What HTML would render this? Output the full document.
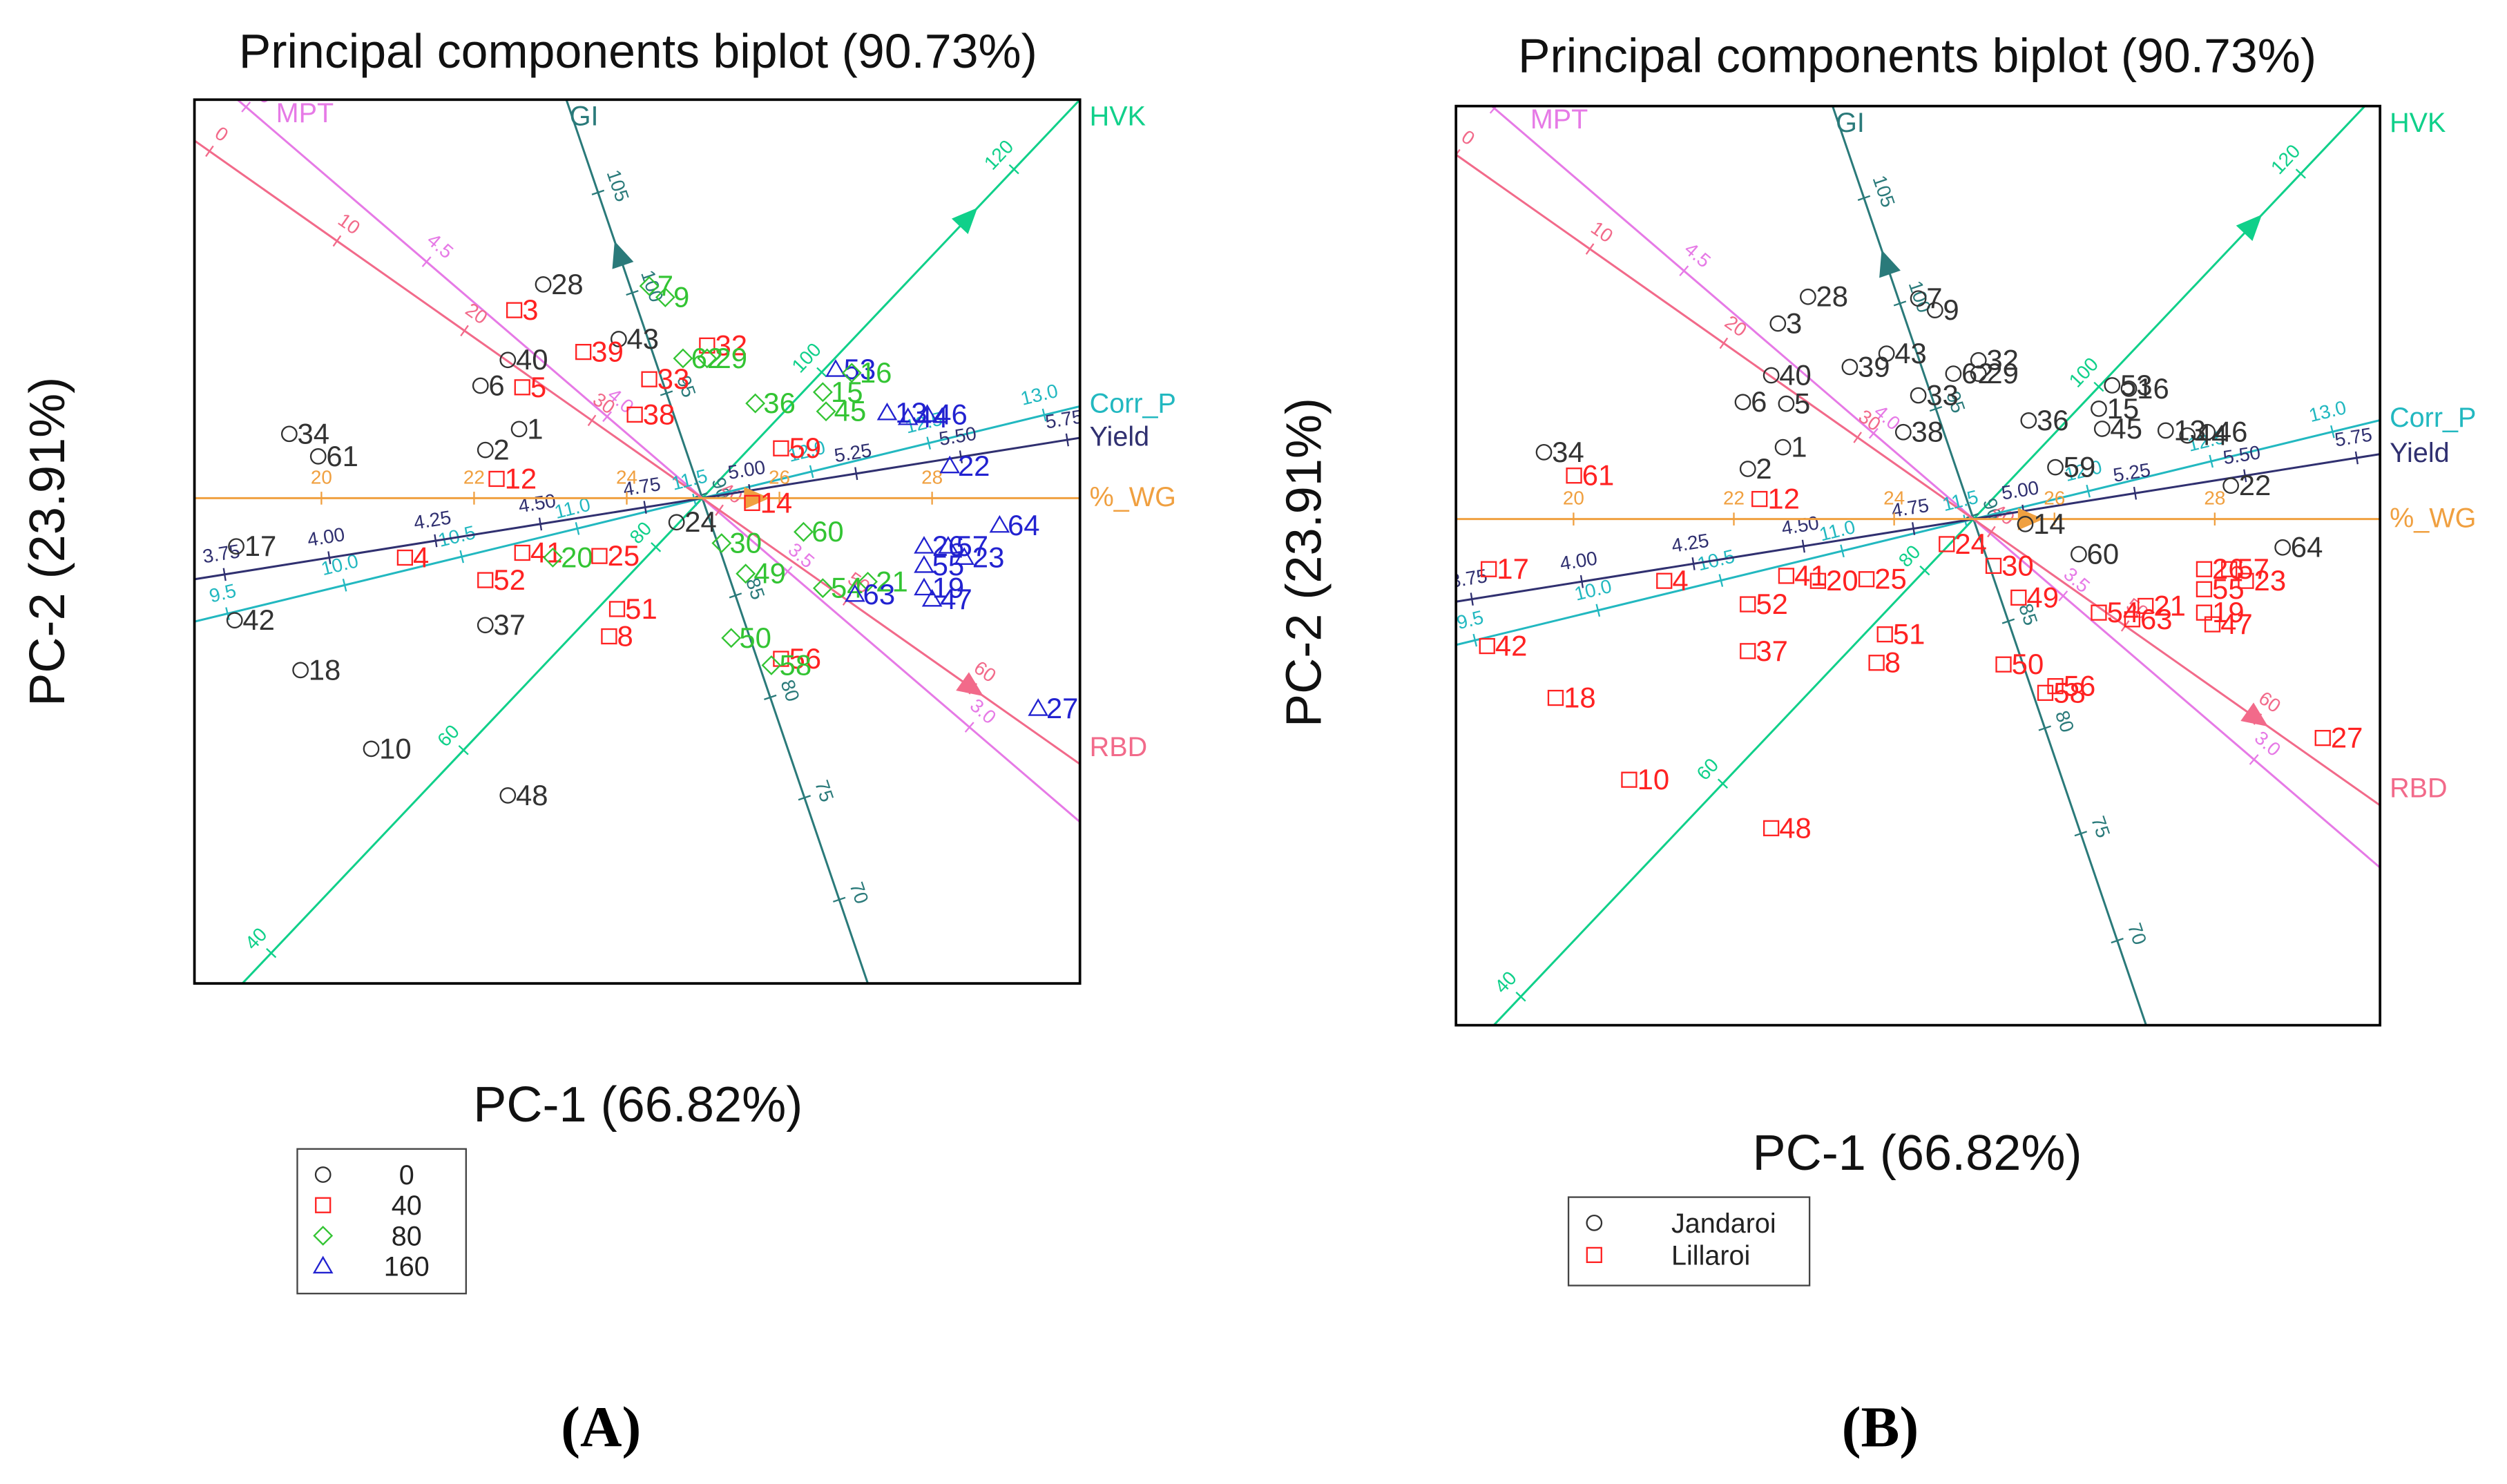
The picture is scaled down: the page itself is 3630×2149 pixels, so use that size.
<!DOCTYPE html>
<html><head><meta charset="utf-8">
<style>
html,body{margin:0;padding:0;background:#fff;width:3630px;height:2149px;overflow:hidden;}
svg{display:block;font-family:"Liberation Sans",Arial,sans-serif;}
</style></head>
<body>
<svg id="root" width="3630" height="2149" viewBox="0 0 1560 923.5" xmlns="http://www.w3.org/2000/svg">
<rect x="0" y="0" width="1560" height="923.5" fill="#fff"/>
<defs>
<clipPath id="clipA"><rect x="121" y="62" width="551" height="550"/></clipPath>
<clipPath id="clipB"><rect x="906" y="66" width="575" height="572"/></clipPath>
</defs>
<g id="panelA"></g>
<g id="panelB"></g>
</svg>
<script>
// ---- point data (PC1, PC2 scores) ----
const ptLabels = ["28","3","7","9","43","39","32","62","29","40","6","5","33","38","36","15","45","53","16","13","44","46","34","61","1","2","59","12","22","14","24","60","64","17","4","41","20","25","30","26","57","23","55","52","49","54","21","63","19","47","42","37","51","8","50","56","58","18","27","10","48"];
const ptPC1 = [-0.99,-1.17,-0.33,-0.23,-0.52,-0.74,0.03,-0.12,0.03,-1.21,-1.38,-1.12,-0.33,-0.42,0.33,0.75,0.77,0.83,0.93,1.15,1.28,1.40,-2.57,-2.39,-1.14,-1.35,0.49,-1.28,1.54,0.31,-0.16,0.63,1.85,-2.90,-1.85,-1.12,-0.93,-0.64,0.12,1.38,1.53,1.63,1.38,-1.35,0.27,0.75,1.03,0.95,1.38,1.43,-2.91,-1.35,-0.53,-0.58,0.18,0.49,0.43,-2.50,2.09,-2.06,-1.21];
const ptPC2 = [1.33,1.17,1.32,1.25,0.99,0.91,0.95,0.87,0.87,0.86,0.70,0.69,0.74,0.52,0.59,0.66,0.54,0.80,0.78,0.53,0.50,0.52,0.40,0.26,0.43,0.30,0.31,0.12,0.20,-0.03,-0.15,-0.21,-0.17,-0.30,-0.37,-0.34,-0.37,-0.36,-0.28,-0.30,-0.30,-0.37,-0.42,-0.51,-0.47,-0.56,-0.52,-0.60,-0.56,-0.63,-0.76,-0.79,-0.69,-0.86,-0.87,-1.00,-1.04,-1.07,-1.31,-1.56,-1.85];
const ptGroupA = ["0","40","80","80","0","40","40","80","80","0","0","40","40","40","80","80","80","160","80","160","160","160","0","0","0","0","40","40","160","40","0","80","160","0","40","40","80","40","80","160","160","160","160","40","80","80","80","160","160","160","0","0","40","40","80","40","80","0","160","0","0"];
const ptGroupB = ["J","J","J","J","J","J","J","J","J","J","J","J","J","J","J","J","J","J","J","J","J","J","J","L","J","J","J","L","J","J","L","J","J","L","L","L","L","L","L","L","L","L","L","L","L","L","L","L","L","L","L","L","L","L","L","L","L","L","L","L","L"];
// ---- biplot vectors ----
const vecNames = ["HVK","GI","MPT","RBD","Corr_P","Yield","%_WG"];
const vecTickVals = [["40","60","80","100","120"],["110","105","100","95","90","85","80","75","70"],["5.0","4.5","4.0","3.5","3.0"],["0","10","20","30","40","50","60"],["9.5","10.0","10.5","11.0","11.5","12.0","12.5","13.0"],["3.75","4.00","4.25","4.50","4.75","5.00","5.25","5.50","5.75"],["20","22","24","26","28"]];
const vecTickPos = [[-390,-216,-42,108,282],[-267,-201,-135,-69,-2,64,131,197,264],[-374,-226,-78,70,219],[-375,-278,-181,-84,13,110,206],[-304,-229,-154,-80,-5,70,145,219],[-301,-235,-168,-102,-36,30,97,163,230],[-237,-142,-47,48,143]];
const vecDir = [[235,-248],[103,302],[540,463],[551,388],[551,-134],[551,-88],[1,0]];
const vecColor = ["#10d08a","#2a7a7a","#e67ae6","#f26a8a","#22b8c0","#303070","#f0a040"];
const vecArrow = [240,-160,null,205,null,null,33];
const vecLabelDy = [10,10,8,-5,4,5,5];

const grpColorA = {"0":"#333","40":"#ff2222","80":"#33c433","160":"#2222d0"};
const grpColorB = {"J":"#333","L":"#ff2222"};
const NS = "http://www.w3.org/2000/svg";
function mk(tag, attrs, parent){const e=document.createElementNS(NS,tag);for(const k in attrs)e.setAttribute(k,attrs[k]);parent.appendChild(e);return e;}

function marker(g, shape, x, y, col){
  let m;
  if(shape==="0"||shape==="J"){m=mk("circle",{cx:x,cy:y,r:4.6,fill:"none",stroke:col,"stroke-width":1},g);}
  else if(shape==="40"||shape==="L"){m=mk("rect",{x:x-4.5,y:y-4.5,width:9,height:9,fill:"none",stroke:col,"stroke-width":1},g);}
  else if(shape==="80"){m=mk("polygon",{points:`${x},${y-5.5} ${x+5.5},${y} ${x},${y+5.5} ${x-5.5},${y}`,fill:"none",stroke:col,"stroke-width":1},g);}
  else {m=mk("polygon",{points:`${x},${y-5.5} ${x+5.5},${y+4} ${x-5.5},${y+4}`,fill:"none",stroke:col,"stroke-width":1},g);}
  return m;
}

function drawPanel(g, P){
  const t=mk("text",{x:P.cx,y:P.titleY,"font-size":30,"text-anchor":"middle",fill:"#111"},g);
  t.textContent="Principal components biplot (90.73%)";
  
  
  const yl=mk("text",{x:0,y:0,"font-size":31,"text-anchor":"middle",fill:"#111",transform:`translate(${P.ylx},${P.yly}) rotate(-90)`},g);
  yl.textContent="PC-2  (23.91%)";
  
  
  const xl=mk("text",{x:P.xlx,y:P.xly,"font-size":31,"text-anchor":"middle",fill:"#111"},g);
  xl.textContent="PC-1  (66.82%)";
  
  
  const vg=mk("g",{"clip-path":`url(#${P.clip})`},g);
  
  
  for(let i=0;i<vecNames.length;i++){
    const d=vecDir[i], L=Math.hypot(d[0],d[1]); const ux=d[0]/L, uy=d[1]/L;
    const col=vecColor[i], s=P.vs;
    const ln=mk("line",{x1:P.ox-ux*1200,y1:P.oy-uy*1200,x2:P.ox+ux*1200,y2:P.oy+uy*1200,stroke:col,"stroke-width":1.3},vg);
    
    
    const px=-uy, py=ux;
    let ang=Math.atan2(uy,ux)*180/Math.PI; if(ang>90)ang-=180; if(ang<-90)ang+=180;
    vecTickPos[i].forEach((tp,j)=>{
      const x=P.ox+ux*tp*s, y=P.oy+uy*tp*s;
      const tk=mk("line",{x1:x-px*4,y1:y-py*4,x2:x+px*4,y2:y+py*4,stroke:col,"stroke-width":1},vg);
      
      
      const sg = (py>0)?-1:1;
      const lx=x+px*13*sg, ly=y+py*13*sg;
      const tl=mk("text",{x:lx,y:ly+4,"font-size":12,"text-anchor":"middle",fill:col,transform:`rotate(${ang} ${lx} ${ly})`},vg);
      tl.textContent=vecTickVals[i][j];
      
      
    });
    if(vecArrow[i]!==null){
      const ax=P.ox+ux*vecArrow[i]*s, ay=P.oy+uy*vecArrow[i]*s;
      const dir = vecArrow[i]<0?-1:1; const bx=ux*dir, by=uy*dir;
      const tip=[ax+bx*9,ay+by*9], b1=[ax-bx*7+px*7,ay-by*7+py*7], b2=[ax-bx*7-px*7,ay-by*7-py*7];
      const ar=mk("polygon",{points:`${tip} ${b1} ${b2}`,fill:col},vg);
      
      
    }
  }
  for(let i=0;i<vecNames.length;i++){
    const d=vecDir[i]; let x,y;
    if(i===1){x=P.ox+(d[0]/d[1])*(P.ft-P.oy)+2; y=P.ft+16;}
    else if(i===2){y=P.ft+14; x=P.ox+(d[0]/d[1])*(P.ft-P.oy)+24;}
    else {x=P.fr+6; y=P.oy+(d[1]/d[0])*(P.fr-P.ox)+vecLabelDy[i]; if(i===0)y=P.ft+16;}
    const tx=mk("text",{x:x,y:y,"font-size":17,fill:vecColor[i]},g);
    tx.textContent=vecNames[i];
    
    
  }
  const pg=mk("g",{},g);
  
  
  for(let i=0;i<ptLabels.length;i++){
    const x=P.ox+ptPC1[i]*100*P.sx, y=P.oy-ptPC2[i]*100*P.sy;
    const grp=P.groups[i], col=P.colors[grp];
    const m=marker(pg,grp,x,y,col);
    
    
    const lb=mk("text",{x:x+5,y:y+6,"font-size":18,fill:col},pg);
    lb.textContent=ptLabels[i];
    
    
  }
  const fr=mk("rect",{x:P.fl,y:P.ft,width:P.fr-P.fl,height:P.fb-P.ft,fill:"none",stroke:"#000","stroke-width":1.6},g);
  
  
  const lg=mk("g",{},g);
  
  
  mk("rect",{x:P.lg[0],y:P.lg[1],width:P.lg[2],height:P.lg[3],fill:"#fff",stroke:"#444","stroke-width":1},lg);
  P.legItems.forEach((it,k)=>{
    const yy=P.lg[1]+16+k*P.legStep;
    const mm=marker(lg,it[0],P.lg[0]+16,yy,P.colors[it[0]]);
    
    
    const lt=mk("text",{x:P.legTx,y:yy+6,"font-size":17,fill:"#222","text-anchor":P.legAnchor},lg);
    lt.textContent=it[1];
    
    
  });
  const pl=mk("text",{x:P.tagX,y:900,"font-size":36,"font-family":"Liberation Serif, serif","text-anchor":"middle","font-weight":"bold",fill:"#000"},g);
  pl.textContent=P.tag;
  
  
}

drawPanel(document.getElementById('panelA'),{
  cx:397,titleY:42,ylx:40,yly:337,xlx:397,xly:698,clip:"clipA",tagX:374,
  ox:437,oy:310,sx:1,sy:1,vs:1,fl:121,ft:62,fr:672,fb:612,
  groups:ptGroupA,colors:grpColorA,
  lg:[185,715,105,90],legStep:19,legTx:253,legAnchor:"middle",
  legItems:[["0","0"],["40","40"],["80","80"],["160","160"]],tag:"(A)"});
drawPanel(document.getElementById('panelB'),{
  cx:1193,titleY:45,ylx:822,yly:350,xlx:1193,xly:728,clip:"clipB",tagX:1170,
  ox:1228,oy:323,sx:1.04,sy:1.04,vs:1.05,fl:906,ft:66,fr:1481,fb:638,
  groups:ptGroupB,colors:grpColorB,
  lg:[976,745,150,55],legStep:20,legTx:1040,legAnchor:"start",
  legItems:[["J","Jandaroi"],["L","Lillaroi"]],tag:"(B)"});
</script>
</body></html>
